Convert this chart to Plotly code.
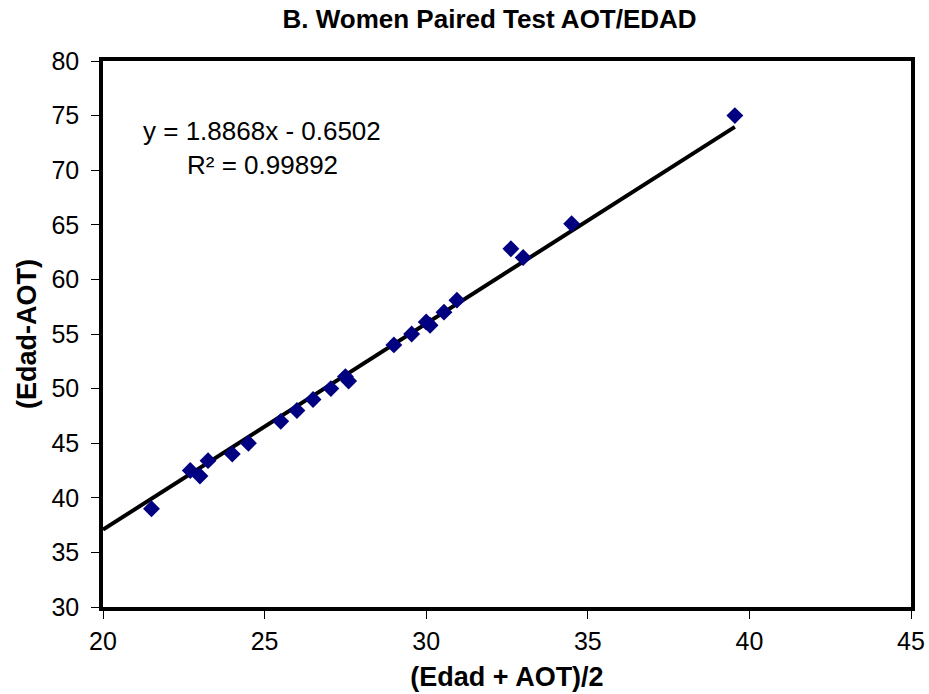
import plotly.graph_objects as go

# Mean of Edad and AOT (x) vs. Edad-AOT (y), women
mean_age = [21.5, 22.7, 23.0, 23.25, 24.0, 24.5, 25.5, 26.0, 26.5, 27.05, 27.5, 27.6,
            29.0, 29.55, 30.0, 30.12, 30.55, 30.95, 32.62, 33.0, 34.5, 39.55]
diff_age = [39.0, 42.5, 42.0, 43.4, 44.0, 45.0, 47.0, 48.0, 49.0, 50.0, 51.1, 50.7,
            54.0, 55.0, 56.1, 55.8, 57.0, 58.1, 62.8, 62.0, 65.1, 75.0]

slope = 1.8868
intercept = -0.6502
r_squared = 0.99892
fit_x = [20.0, max(mean_age)]
fit_y = [slope * v + intercept for v in fit_x]

FONT = "Liberation Sans, Arial, sans-serif"

fig = go.Figure()
fig.add_trace(go.Scatter(
    x=fit_x, y=fit_y, mode="lines",
    line=dict(color="black", width=4), showlegend=False, hoverinfo="skip"))
fig.add_trace(go.Scatter(
    x=mean_age, y=diff_age, mode="markers",
    marker=dict(symbol="diamond", size=13, color="#000080"),
    showlegend=False))

fig.add_annotation(x=0.047, y=0.872, xref="paper", yref="paper",
                   text=f"y = {slope}x - {abs(intercept)}", showarrow=False,
                   xanchor="left", yanchor="middle",
                   font=dict(family=FONT, size=26, color="black"))
fig.add_annotation(x=0.101, y=0.81, xref="paper", yref="paper",
                   text=f"R² = {r_squared}", showarrow=False,
                   xanchor="left", yanchor="middle",
                   font=dict(family=FONT, size=26, color="black"))

axis_common = dict(
    showline=True, linecolor="black", linewidth=3.5, mirror=True,
    showgrid=False, zeroline=False, automargin=False,
    ticks="outside", ticklen=8, tickwidth=1, tickcolor="black",
    tickfont=dict(family=FONT, size=25, color="black"),
)

fig.update_layout(
    width=929, height=694,
    margin=dict(l=103, r=18, t=61, b=87),
    paper_bgcolor="white", plot_bgcolor="white",
    title=dict(text="<b>B. Women Paired Test AOT/EDAD</b>", x=0.527, xanchor="center",
               y=0.973, yanchor="middle",
               font=dict(family=FONT, size=26, color="black")),
    xaxis=dict(range=[20, 45], dtick=5, ticklabelstandoff=1,
               title=dict(text="<b>(Edad + AOT)/2</b>", standoff=14,
                          font=dict(family=FONT, size=27, color="black")),
               **axis_common),
    yaxis=dict(range=[30, 80], dtick=5, ticklabelstandoff=7,
               title=dict(text="<b>(Edad-AOT)</b>", standoff=8,
                          font=dict(family=FONT, size=27, color="black")),
               **axis_common),
)

fig.write_html("out.html")
